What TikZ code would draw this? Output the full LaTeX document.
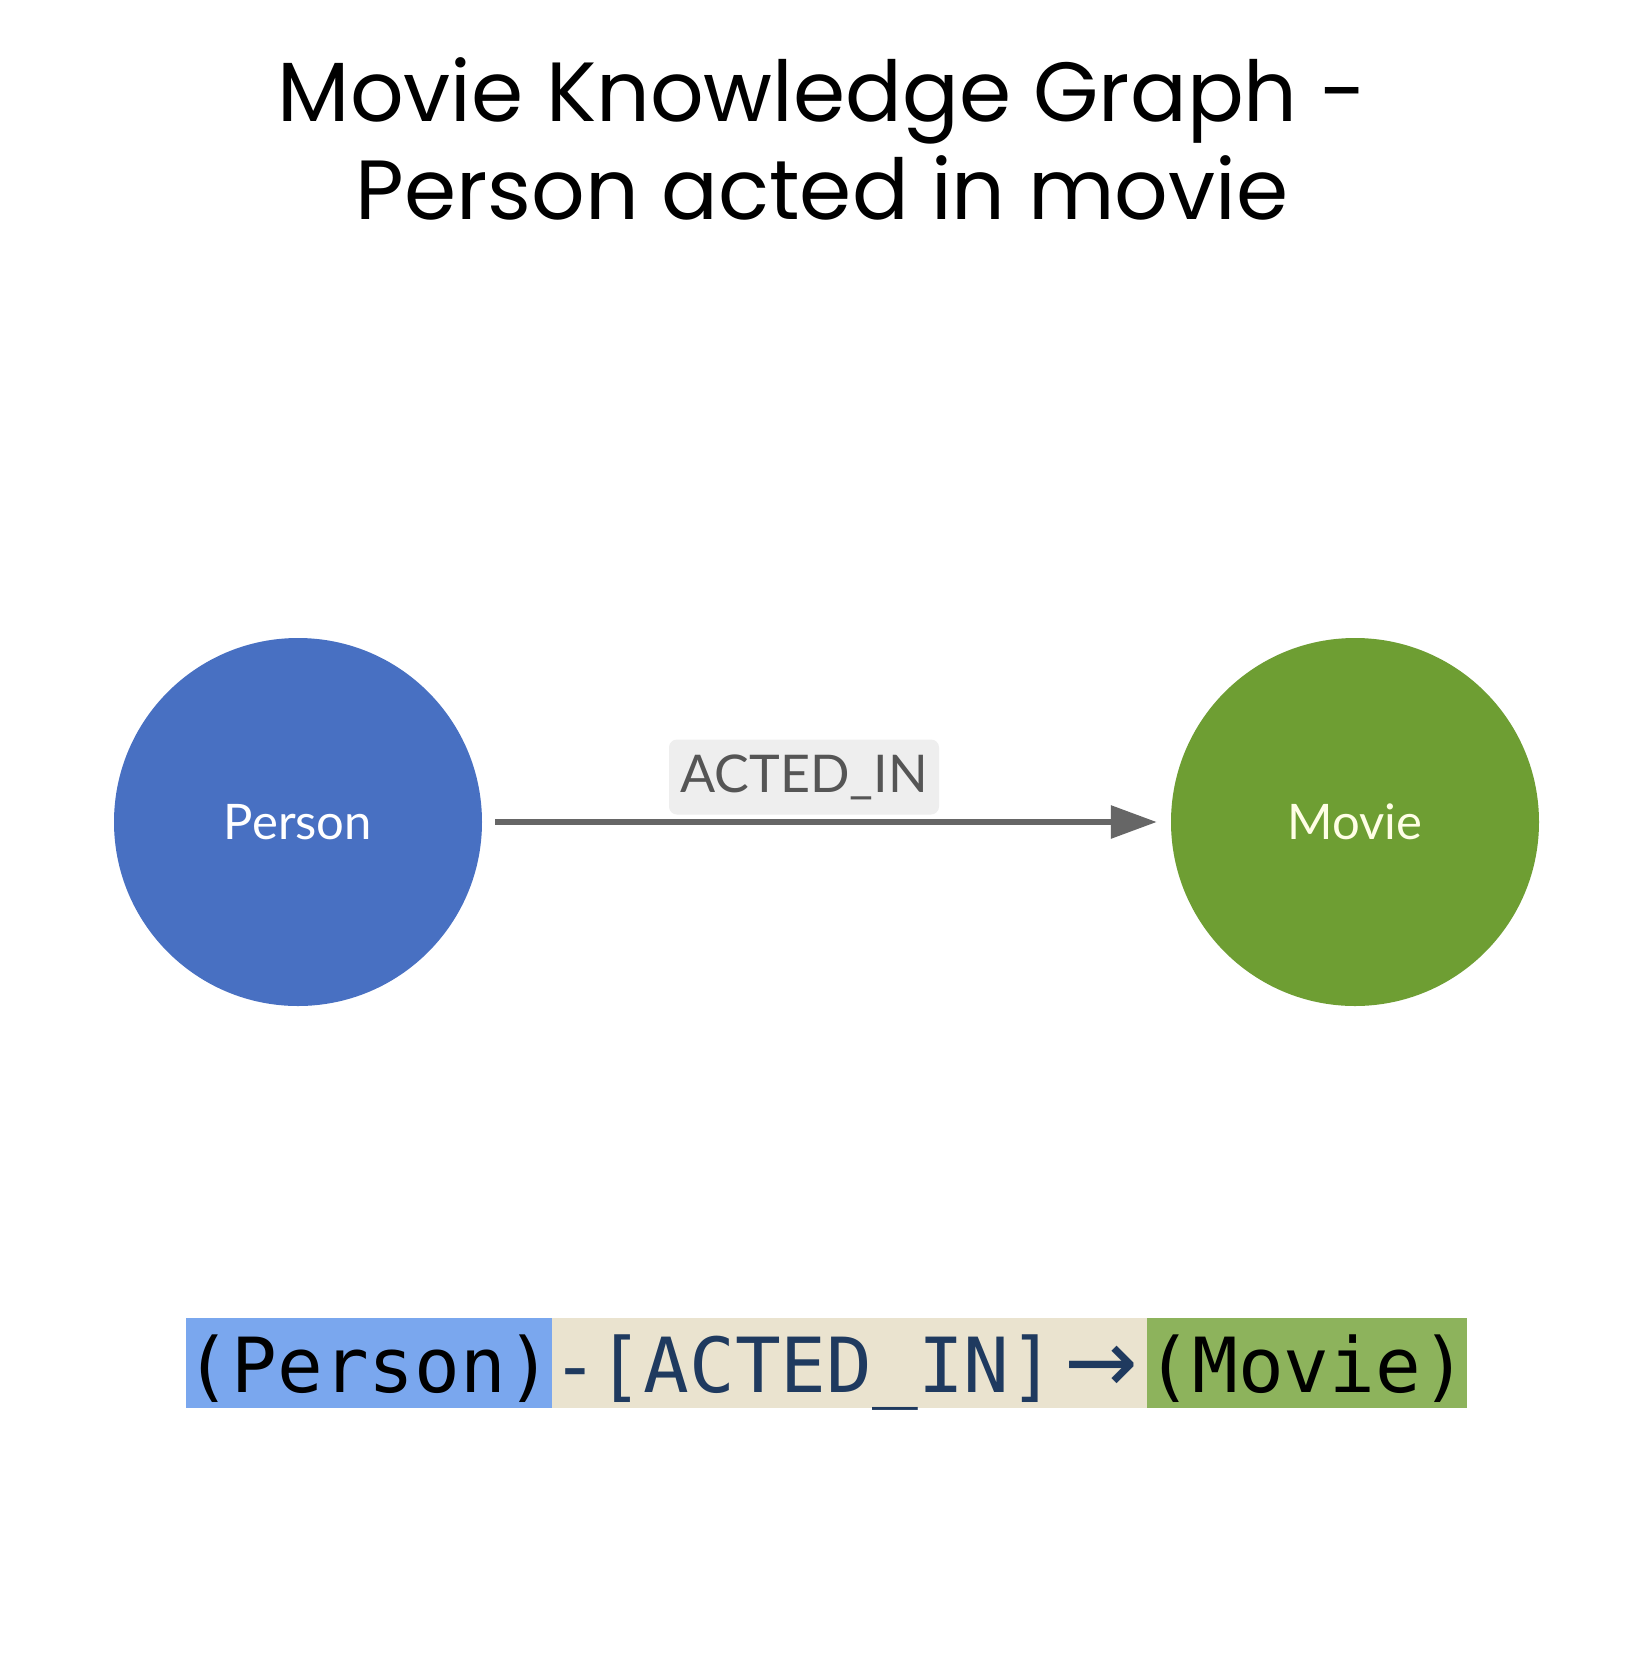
\documentclass[tikz,border=0pt]{standalone}
\usepackage{fontspec}
\setmainfont{Lato}
\newfontfamily\titlefont{Poppins}
\newfontfamily\codefont{DejaVu Sans Mono}
\newfontfamily\arrowfont{DejaVu Sans}
\usetikzlibrary{arrows.meta,positioning}

\definecolor{personblue}{HTML}{4870C2}
\definecolor{moviegreen}{HTML}{6E9E33}
\definecolor{edgegrey}{HTML}{666666}
\definecolor{labelfill}{HTML}{EEEEEE}
\definecolor{labeltext}{HTML}{555555}
\definecolor{codeblue}{HTML}{7AA7EE}
\definecolor{codebeige}{HTML}{EAE3CF}
\definecolor{codegreen}{HTML}{8DB35C}
\definecolor{codeink}{HTML}{1F3A5F}

% the "->" of the pattern takes two cells
\newcommand{\relto}{\makebox[1.2em][c]{\arrowfont\fontsize{88}{90}\selectfont →}}

\tikzset{
  entity/.style={circle, minimum size=368pt, inner sep=0pt, font=\fontsize{49}{58}\selectfont},
  relarrow/.style={line width=6pt, edgegrey, -{Triangle[length=46pt,width=32pt]}, shorten <=13pt, shorten >=14pt},
  codepart/.style={inner sep=0pt, outer sep=0pt, minimum height=90pt, text height=62pt, text depth=4pt,
                   font=\codefont\fontsize{76}{90}\selectfont}
}

\begin{document}
\begin{tikzpicture}[x=1pt,y=-1pt]
    \useasboundingbox[fill=white] (0,0) rectangle (1644,1660);

    % Title
    \node[align=center, font=\titlefont\fontsize{84}{98}\selectfont] (title) at (822,139)
        {Movie Knowledge Graph -\\Person acted in movie};

    % Graph nodes
    \node[entity, fill=personblue, text=white] (person) at (298,822) {Person};
    \node[entity, fill=moviegreen, text=white!90!yellow] (movie) at (1355,822) {Movie};

    % Relationship
    \draw[relarrow] (person) -- (movie);
    \node[fill=labelfill, rounded corners=8pt, minimum width=270pt, minimum height=75pt,
          text=labeltext, font=\fontsize{52}{62}\selectfont] (rel) at (804,777) {ACTED\_IN};

    % Cypher pattern
    \node[codepart, fill=codeblue, minimum width=366pt] (pbox) at (369,1363) {(Person)};
    \node[codepart, fill=codebeige, text=codeink, minimum width=594pt, right=0pt of pbox] (rbox) {-[ACTED\_IN]\relto};
    \node[codepart, fill=codegreen, minimum width=320pt, right=0pt of rbox] (mbox) {(Movie)};
\end{tikzpicture}
\end{document}
